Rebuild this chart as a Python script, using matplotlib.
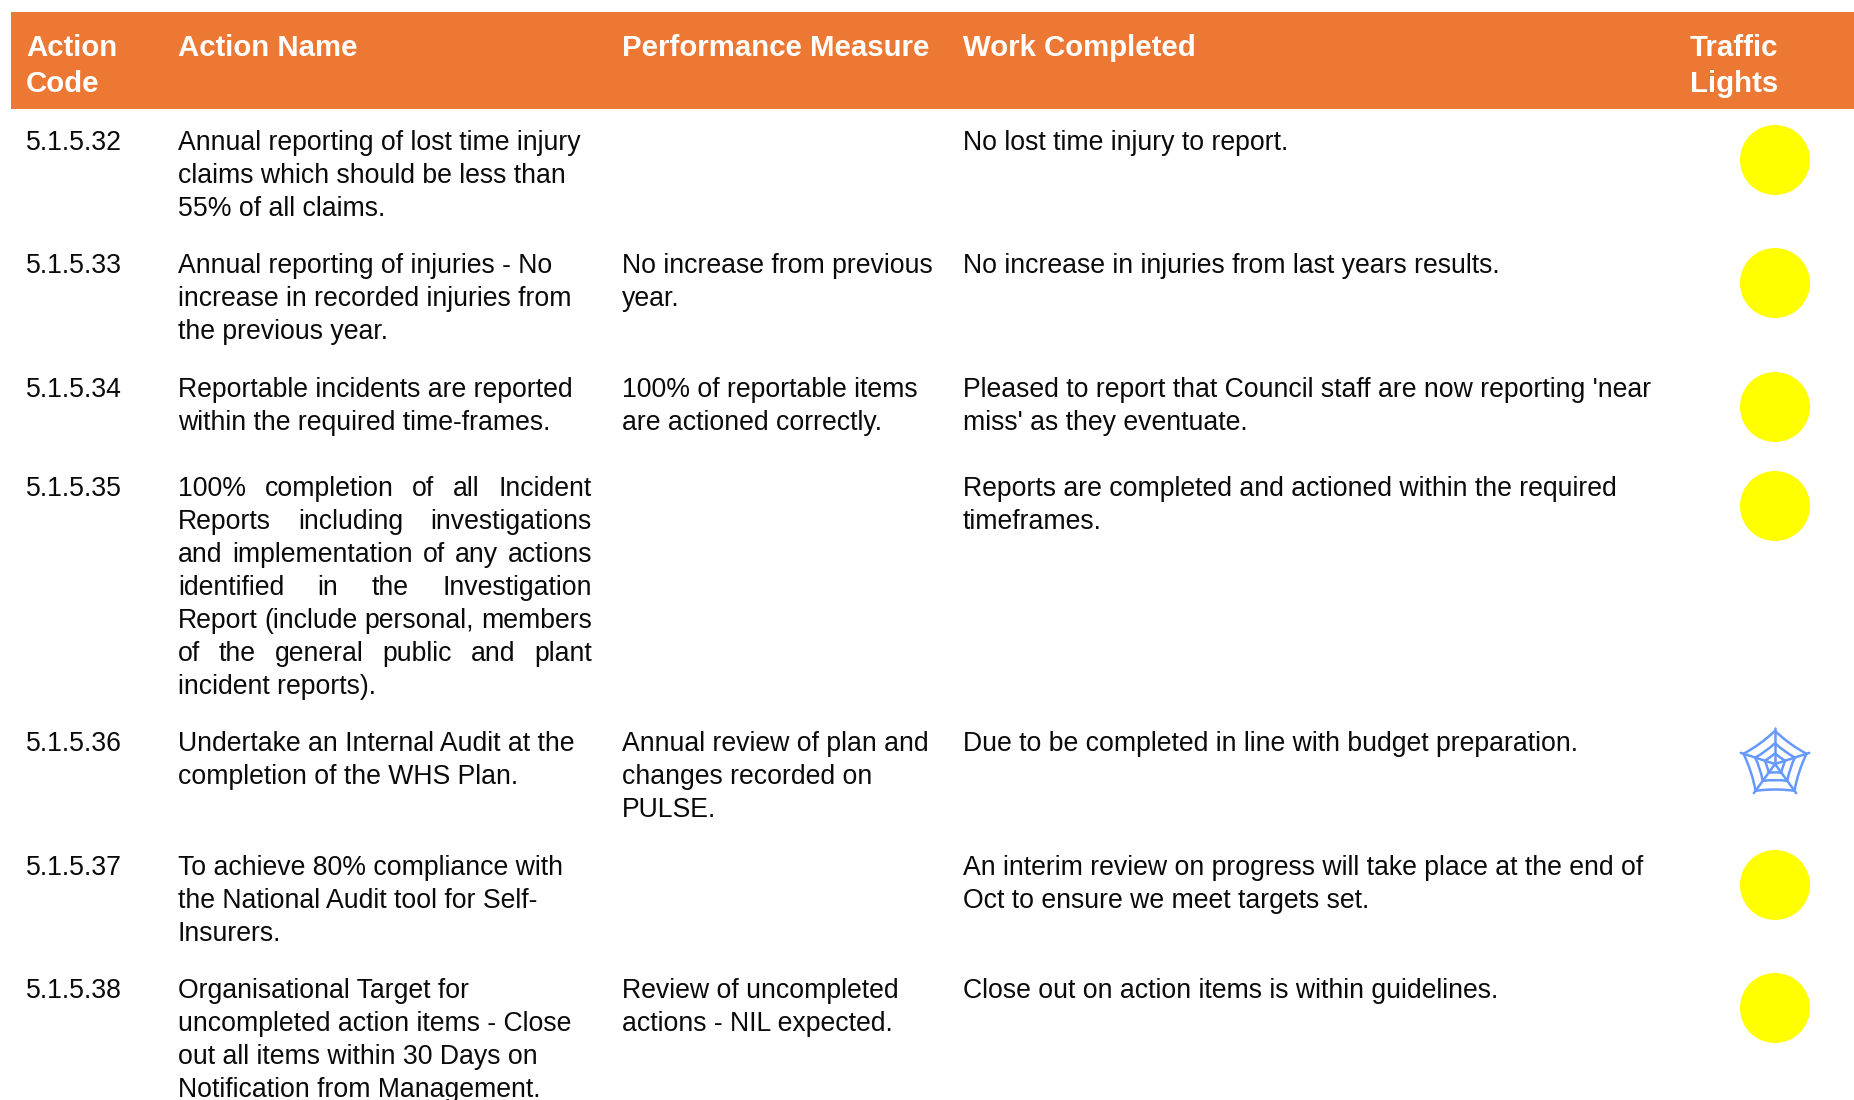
import numpy as np
import matplotlib
matplotlib.use("Agg")
import matplotlib.pyplot as plt
from matplotlib.patches import Circle, PathPatch, Rectangle
from matplotlib.path import Path

plt.rcParams["font.family"] = ["Liberation Sans", "DejaVu Sans"]

headers = [["Action", "Code"], ["Action Name"], ["Performance Measure"], ["Work Completed"], ["Traffic", "Lights"]]
codes = ["5.1.5.32", "5.1.5.33", "5.1.5.34", "5.1.5.35", "5.1.5.36", "5.1.5.37", "5.1.5.38"]
action_names = [
    ["Annual reporting of lost time injury", "claims which should be less than", "55% of all claims."],
    ["Annual reporting of injuries - No", "increase in recorded injuries from", "the previous year."],
    ["Reportable incidents are reported", "within the required time-frames."],
    ["100% completion of all Incident", "Reports including investigations", "and implementation of any actions",
     "identified in the Investigation", "Report (include personal, members", "of the general public and plant",
     "incident reports)."],
    ["Undertake an Internal Audit at the", "completion of the WHS Plan."],
    ["To achieve 80% compliance with", "the National Audit tool for Self-", "Insurers."],
    ["Organisational Target for", "uncompleted action items - Close", "out all items within 30 Days on",
     "Notification from Management."],
]
measures = [
    [],
    ["No increase from previous", "year."],
    ["100% of reportable items", "are actioned correctly."],
    [],
    ["Annual review of plan and", "changes recorded on", "PULSE."],
    [],
    ["Review of uncompleted", "actions - NIL expected."],
]
work_done = [
    ["No lost time injury to report."],
    ["No increase in injuries from last years results."],
    ["Pleased to report that Council staff are now reporting 'near", "miss' as they eventuate."],
    ["Reports are completed and actioned within the required", "timeframes."],
    ["Due to be completed in line with budget preparation."],
    ["An interim review on progress will take place at the end of", "Oct to ensure we meet targets set."],
    ["Close out on action items is within guidelines."],
]
lights = ["yellow", "yellow", "yellow", "yellow", "web", "yellow", "yellow"]

# layout, in reference pixels
W, H = 1854, 1100
COL_X = [26, 178, 622, 963, 1690]
ROW_BASE = [150, 273, 397, 496, 751, 875, 998]
LINE = 33
FS = 19.2
HEAD_FS = 21.2
HEAD_BASE = 56
JUST_ROW = 3
JUST_RIGHT = 592
LIGHT_X = 1775
LIGHT_DY = 10


def draw_web(ax, cx, cy, r, color="#6699ff"):
    angs = np.deg2rad(90 - 72 * np.arange(5))
    tips = np.column_stack([cx + r * np.cos(angs), cy - r * np.sin(angs)])
    for t in tips:
        ax.plot([cx, t[0]], [cy, t[1]], color=color, lw=1.8, solid_capstyle="round")
    for f in [0.3, 0.58, 0.92]:
        for i in range(5):
            a = (cx, cy) + f * (tips[i] - (cx, cy))
            b = (cx, cy) + f * (tips[(i + 1) % 5] - (cx, cy))
            mid = (a + b) / 2
            ctrl = mid + 0.1 * ((cx, cy) - mid)
            ax.add_patch(PathPatch(Path([a, ctrl, b], [Path.MOVETO, Path.CURVE3, Path.CURVE3]),
                                   fc="none", ec=color, lw=1.8))


def justified(ax, line, x0, x1, y):
    rend = ax.figure.canvas.get_renderer()
    words = line.split()
    items = [ax.text(x0, y, w, fontsize=FS, color="#0a0a0a", va="baseline") for w in words]
    widths = [t.get_window_extent(rend).width for t in items]
    gap = (x1 - x0 - sum(widths)) / (len(words) - 1)
    x = x0
    for t, w in zip(items, widths):
        t.set_x(x)
        x += w + gap


fig = plt.figure(figsize=(W / 100, H / 100), dpi=100)
ax = fig.add_axes([0, 0, 1, 1])
ax.set_xlim(0, W)
ax.set_ylim(H, 0)
ax.axis("off")

ax.add_patch(Rectangle((11, 12), W - 11, 97, fc="#ed7833", ec="none"))
for x, hdr in zip(COL_X, headers):
    for i, s in enumerate(hdr):
        ax.text(x, HEAD_BASE + i * 36, s, fontsize=HEAD_FS, fontweight="bold", color="white", va="baseline")

for r, base in enumerate(ROW_BASE):
    ax.text(COL_X[0], base, codes[r], fontsize=FS, color="#0a0a0a", va="baseline")
    for i, s in enumerate(action_names[r]):
        y = base + i * LINE
        if r == JUST_ROW and i < len(action_names[r]) - 1:
            justified(ax, s, COL_X[1], JUST_RIGHT, y)
        else:
            ax.text(COL_X[1], y, s, fontsize=FS, color="#0a0a0a", va="baseline")
    for i, s in enumerate(measures[r]):
        ax.text(COL_X[2], base + i * LINE, s, fontsize=FS, color="#0a0a0a", va="baseline")
    for i, s in enumerate(work_done[r]):
        ax.text(COL_X[3], base + i * LINE, s, fontsize=FS, color="#0a0a0a", va="baseline")
    if lights[r] == "yellow":
        ax.add_patch(Circle((LIGHT_X, base + LIGHT_DY), 35, fc="#ffff00", ec="none"))
    else:
        draw_web(ax, LIGHT_X, base + LIGHT_DY + 3, 36)

fig.savefig("out.png", dpi=100)
